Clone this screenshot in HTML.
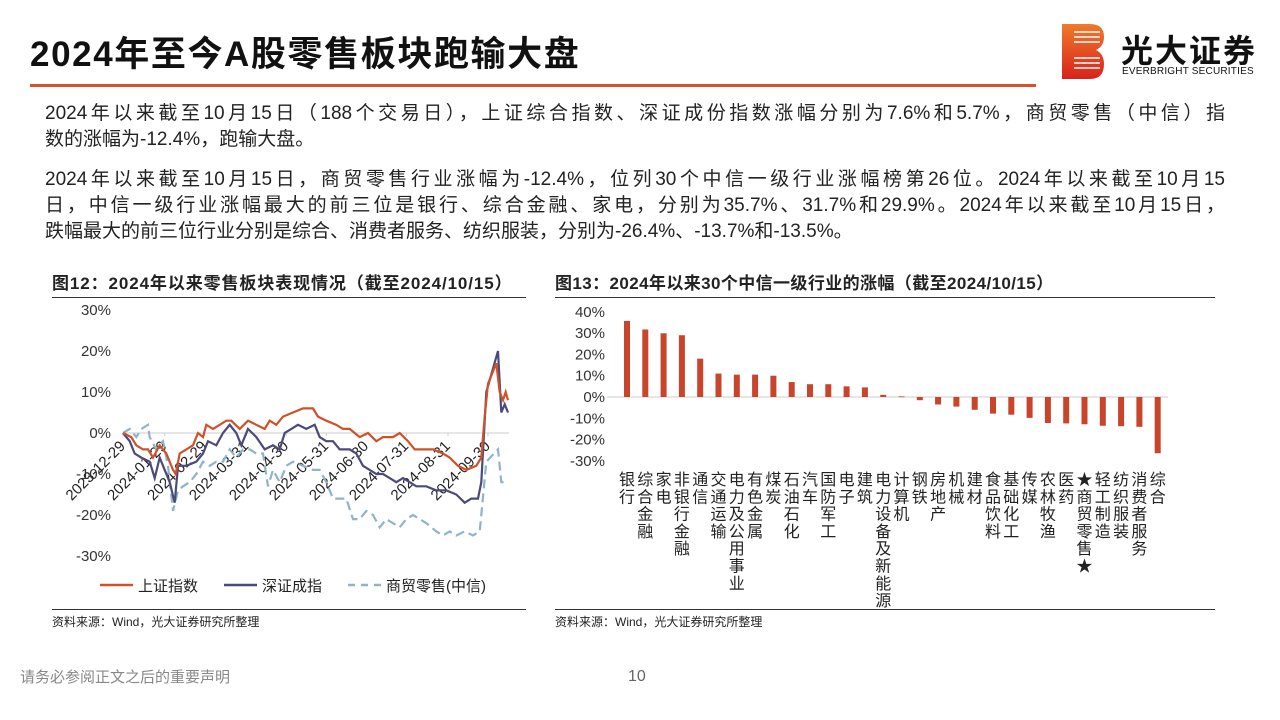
<!DOCTYPE html>
<html><head><meta charset="utf-8">
<style>
body{margin:0;width:1280px;height:720px;background:#fff;position:relative;overflow:hidden;font-family:"Liberation Sans","Noto Sans CJK SC",sans-serif;color:#222}
.abs{position:absolute}
.ln{white-space:nowrap;text-align:justify;text-align-last:justify;width:1180px;height:26px}
.ln.l{text-align-last:left}
</style></head><body>
<div class="abs" style="left:30px;top:26px;font-size:35px;letter-spacing:1.6px;font-weight:bold;color:#111">2024年至今A股零售板块跑输大盘</div>
<div class="abs" style="left:30px;top:84px;width:1006px;height:3px;background:#d9502b"></div>
<div class="abs" style="left:1060px;top:22px;width:210px;height:58px">
 <svg width="45" height="58"><defs><linearGradient id="lg" x1="0" y1="0" x2="0" y2="1"><stop offset="0" stop-color="#f07a2a"/><stop offset="1" stop-color="#d8221c"/></linearGradient></defs>
 <path d="M2 2H30Q44 2 44 15Q44 24 36 28Q44 32 44 42Q44 57 30 57H2Z" fill="url(#lg)"/>
 <g stroke="#fff" stroke-width="1.5"><line x1="14" y1="10" x2="40" y2="10"/><line x1="14" y1="15" x2="40" y2="15"/><line x1="14" y1="20" x2="40" y2="20"/><line x1="14" y1="36" x2="40" y2="36"/><line x1="14" y1="41" x2="40" y2="41"/><line x1="14" y1="46" x2="40" y2="46"/></g></svg>
 <div class="abs" style="left:61px;top:4px;font-size:32px;font-weight:bold;color:#111;letter-spacing:2px">光大证券</div>
 <div class="abs" style="left:62px;top:44px;font-size:10px;color:#111;letter-spacing:.2px">EVERBRIGHT SECURITIES</div>
</div>
<div class="abs" style="left:45px;top:101px;font-size:19px;line-height:26px;color:#222">
<div>
<div class="ln">2024年以来截至10月15日（188个交易日），上证综合指数、深证成份指数涨幅分别为7.6%和5.7%，商贸零售（中信）指</div>
<div class="ln l">数的涨幅为-12.4%，跑输大盘。</div></div>
<div style="margin-top:14px">
<div class="ln">2024年以来截至10月15日，商贸零售行业涨幅为-12.4%，位列30个中信一级行业涨幅榜第26位。2024年以来截至10月15</div>
<div class="ln">日，中信一级行业涨幅最大的前三位是银行、综合金融、家电，分别为35.7%、31.7%和29.9%。2024年以来截至10月15日，</div>
<div class="ln l">跌幅最大的前三位行业分别是综合、消费者服务、纺织服装，分别为-26.4%、-13.7%和-13.5%。</div></div>
</div>
<div class="abs" style="left:52px;top:269px;width:474px;font-size:17px;letter-spacing:0.9px;font-weight:bold;border-bottom:1.5px solid #333;padding-bottom:3px;white-space:nowrap">图12：2024年以来零售板块表现情况（截至2024/10/15）</div>
<div class="abs" style="left:555px;top:269px;width:660px;font-size:17px;letter-spacing:0.4px;font-weight:bold;border-bottom:1.5px solid #333;padding-bottom:3px;white-space:nowrap">图13：2024年以来30个中信一级行业的涨幅（截至2024/10/15）</div>
<div class="abs" style="left:52px;top:609px;width:474px;border-top:1px solid #333"></div>
<div class="abs" style="left:555px;top:609px;width:660px;border-top:1px solid #333"></div>
<div class="abs" style="left:52px;top:613px;font-size:12px">资料来源：Wind，光大证券研究所整理</div>
<div class="abs" style="left:555px;top:613px;font-size:12px">资料来源：Wind，光大证券研究所整理</div>
<div class="abs" style="left:20px;top:666px;font-size:15px;color:#888">请务必参阅正文之后的重要声明</div>
<div class="abs" style="left:628px;top:668px;font-size:16px;color:#666">10</div>

<svg class="abs" style="left:0;top:0" width="1280" height="720" id="svg"></svg>
<script>
// ---- Chart 12 data (t: position along date range 0..1155) ----
const shT=[0,25,40,60,75,90,110,130,150,158,170,190,210,225,240,250,270,290,310,325,350,375,400,425,440,460,480,510,540,570,585,610,640,660,680,710,735,760,780,810,830,855,875,900,930,960,980,1005,1030,1060,1075,1085,1095,1120,1130,1140,1148,1155];
const shV=[0,-1,-3,-4,-4,-6,-3,-5,-9,-10,-5,-4,-3,0,-1,2,1,2,3,3,1,3,2,1,3,2,4,5,6,6,4,3,2,1,1,-1,0,-2,-1,-1,0,-2,-4,-4,-4,-5,-6,-8,-9,-8,-6,4,12,17,10,8,10,8];
const szT=[0,20,35,55,80,95,110,125,140,155,165,190,220,240,255,280,300,320,340,355,375,400,425,450,470,485,505,525,550,575,590,610,630,650,680,700,720,740,760,780,800,820,840,860,880,910,940,970,1000,1025,1045,1065,1075,1090,1125,1135,1145,1155];
const szV=[0,-2,-5,-6,-7,-11,-6,-9,-12,-17,-8,-8,-7,-5,-2,-3,0,2,0,-3,1,-1,-4,-3,-4,0,1,2,1,2,-1,-2,-2,-4,-4,-5,-8,-9,-10,-10,-11,-12,-11,-12,-13,-13,-14,-14,-15,-17,-16,-16,-12,10,20,5,7,5];
const rtT=[0,20,40,55,75,80,100,120,135,150,165,180,200,220,240,260,280,300,320,340,360,380,400,420,435,450,470,490,510,540,570,590,610,630,650,670,690,710,730,750,770,790,810,830,850,870,890,910,940,960,980,1000,1025,1050,1070,1075,1090,1125,1135,1155];
const rtV=[0,1,-1,1,2,-1,-4,-2,-8,-19,-14,-13,-12,-10,-7,-8,-7,-7,-4,-6,-4,-4,-5,-5,-13,-9,-12,-8,-7,-8,-9,-9,-12,-16,-16,-16,-21,-21,-19,-20,-23,-21,-22,-23,-21,-20,-21,-22,-24,-25,-24,-25,-24,-25,-24,-20,-7,-4,-12,-12];
const yTicks12=[30,20,10,0,-10,-20,-30];
const dateLabels=["2023-12-29","2024-01-29","2024-02-29","2024-03-31","2024-04-30","2024-05-31","2024-06-30","2024-07-31","2024-08-31","2024-09-30"];
const dateTickT=[0,125,245,370,490,610,730,850,975,1095];
// ---- Chart 13 data ----
const industries=["银行","综合金融","家电","非银行金融","通信","交通运输","电力及公用事业","有色金属","煤炭","石油石化","汽车","国防军工","电子","建筑","电力设备及新能源","计算机","钢铁","房地产","机械","建材","食品饮料","基础化工","传媒","农林牧渔","医药","★商贸零售★","轻工制造","纺织服装","消费者服务","综合"];
const returns=[35.7,31.7,29.9,29.0,18.0,11.0,10.5,10.5,10.0,7.0,6.0,6.0,5.0,4.5,1.0,0.3,-1.5,-3.5,-4.5,-6.0,-7.8,-8.3,-9.8,-12.2,-12.4,-12.8,-13.5,-13.7,-14.0,-26.4];
const yTicks13=[40,30,20,10,0,-10,-20,-30];

const NS="http://www.w3.org/2000/svg";
const svg=document.getElementById('svg');
function mk(tag,attrs,parent){const e=document.createElementNS(NS,tag);for(const k in attrs)e.setAttribute(k,attrs[k]);(parent||svg).appendChild(e);return e;}
const x12=t=>123+t*(508-123)/1155;
const y12=v=>433-v*4.1;
const g12=mk('g',{});


yTicks12.forEach(v=>{const t=mk('text',{x:111,y:y12(v)+5,'text-anchor':'end','font-size':15,fill:'#333'},g12);t.textContent=v+'%';
});
mk('line',{x1:x12(0),x2:509,y1:y12(0),y2:y12(0),stroke:'#ccc','stroke-width':1},g12);
dateTickT.forEach((tt,i)=>{const x=x12(tt);mk('line',{x1:x,x2:x,y1:y12(0),y2:y12(0)+3,stroke:'#ccc'},g12);
const t=mk('text',{x:x+3,y:y12(0)+14,'text-anchor':'end','font-size':15,fill:'#222',transform:`rotate(-45 ${x+3} ${y12(0)+14})`},g12);t.textContent=dateLabels[i];
});
function line(T,V,color,dash,name){const d=T.map((t,i)=>(i?'L':'M')+x12(t).toFixed(1)+' '+y12(V[i]).toFixed(1)).join('');
const p=mk('path',{d,fill:'none',stroke:color,'stroke-width':2.2,'stroke-dasharray':dash||'none'},g12);
}
line(rtT,rtV,'#8fb4c6','9 5','series-retail');
line(szT,szV,'#4b4a7a','', 'series-shenzhen');
line(shT,shV,'#d0502a','', 'series-shanghai');
[[100,'#d0502a','','上证指数','legend-shanghai'],[224,'#4b4a7a','','深证成指','legend-shenzhen'],[348,'#8fb4c6','7 6','商贸零售(中信)','legend-retail']].forEach(l=>{
const g=mk('g',{},g12);
mk('line',{x1:l[0],x2:l[0]+33,y1:585,y2:585,stroke:l[1],'stroke-width':2.5,'stroke-dasharray':l[2]||'none'},g);
const t=mk('text',{x:l[0]+38,y:591,'font-size':15,fill:'#222'},g);t.textContent=l[3];});
// chart 13
const g13=mk('g',{});


const y13=v=>397-v*2.13;
const x13=i=>627+i*18.3;
yTicks13.forEach(v=>{const t=mk('text',{x:605,y:y13(v)+5,'text-anchor':'end','font-size':15,fill:'#333'},g13);t.textContent=v+'%';
});
mk('line',{x1:607,x2:1168,y1:y13(0),y2:y13(0),stroke:'#ccc'},g13);
returns.forEach((v,i)=>{const cx=x13(i);const y0=y13(0),y1=y13(v);
const r=mk('rect',{x:cx-3,y:Math.min(y0,y1),width:6,height:Math.max(0.8,Math.abs(y1-y0)),fill:'#c8442a'},g13);

const chars=[...industries[i]];
const t=mk('text',{x:cx,'text-anchor':'middle','font-size':16,fill:'#222'},g13);

chars.forEach((c,k)=>{const s=mk('tspan',{x:cx,y:485+k*17.3},t);s.textContent=c;});});
</script>
</body></html>
